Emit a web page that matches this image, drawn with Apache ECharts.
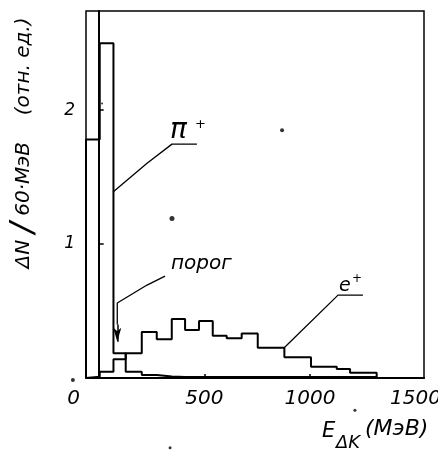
<!DOCTYPE html>
<html><head><meta charset="utf-8">
<script src="https://cdn.jsdelivr.net/npm/echarts@6/dist/echarts.min.js"></script>
<style>html,body{margin:0;padding:0;background:#fff}#c{width:438px;height:450px}</style>
</head><body><div id="c"></div>
<script>
// ---- data ----
// histogram bin edges (MeV)
const binEdges = [-60, 5, 70, 128, 204, 275, 346, 409, 475, 540, 606, 677, 753, 816, 879, 942, 1005, 1067, 1127, 1190, 1253, 1316];
// pi+ histogram, dN/60 MeV (rel. units)
const pionValues = [1.78, 2.50, 0.185, 0.047, 0.022, 0.012, 0.008, 0.008, 0.007, 0.007, 0.007, 0.007, 0.007, 0.007, 0.007, 0.007, 0.007, 0.007, 0.007, 0.007, 0.007];
// e+ histogram
const positronValues = [0.01, 0.047, 0.14, 0.185, 0.343, 0.289, 0.44, 0.358, 0.425, 0.316, 0.296, 0.333, 0.226, 0.226, 0.154, 0.154, 0.084, 0.084, 0.067, 0.04, 0.04];
// axis ticks
const xTickLabels = [0, 500, 1000, 1500];
const xTickMarks = [500, 1000];
const yTickLabels = [1, 2];
// annotation leader lines (data coordinates)
const pionLeader = [[465, 1.746], [347, 1.746], [229, 1.604], [68, 1.388]];
const thresholdLeader = [[314, 0.761], [229, 0.694], [88, 0.56], [88, 0.40]];
const thresholdArrow = [[88, 0.40], [88, 0.27]];
const positronLeader = [[1251, 0.619], [1133, 0.619], [877, 0.224]];
// stray specks in the scan
const specks = [[347, 1.19, 5], [868, 1.85, 4], [16, 2.05, 2], [-122, -0.015, 4], [1213, -0.24, 3], [338, -0.52, 3]];

const FONT = 'DejaVu Sans';
function stepPath(edges, vals) {
  const pts = [[edges[0], 0]];
  vals.forEach((v, i) => { pts.push([edges[i], v]); pts.push([edges[i + 1], v]); });
  pts.push([edges[edges.length - 1], 0]);
  return pts;
}
const lineBase = { type: 'line', symbol: 'none', silent: true, animation: false };

const chart = echarts.init(document.getElementById('c'), null, { renderer: 'canvas' });
chart.setOption({
  animation: false,
  backgroundColor: '#fff',
  grid: { left: 86, right: 14, top: 11, bottom: 72, show: true, borderColor: '#000', borderWidth: 1.5,
          outerBoundsMode: 'none', containLabel: false },
  xAxis: {
    type: 'value', min: -60, max: 1540,
    splitLine: { show: false },
    axisLine: { show: true, lineStyle: { color: '#000', width: 2 } },
    axisTick: { show: true, inside: true, length: 4, customValues: xTickMarks, lineStyle: { color: '#000', width: 1.5 } },
    axisLabel: {
      customValues: xTickLabels, margin: 11, color: '#000', fontSize: 20, fontStyle: 'italic', fontFamily: FONT,
      formatter: v => v === 0 ? '{z|0}' : String(v),
      rich: { z: { padding: [0, 50, 0, 0], fontSize: 20, fontStyle: 'italic', fontFamily: FONT, color: '#000' } }
    }
  },
  yAxis: {
    type: 'value', min: 0, max: 2.74,
    splitLine: { show: false },
    axisLine: { show: true, lineStyle: { color: '#000', width: 2 } },
    axisTick: { show: true, inside: true, length: 5, customValues: yTickLabels, lineStyle: { color: '#000', width: 1.5 } },
    axisLabel: { customValues: yTickLabels, margin: 11, color: '#000', fontSize: 17, fontStyle: 'italic', fontFamily: FONT }
  },
  series: [
    Object.assign({}, lineBase, { name: 'π+', data: stepPath(binEdges, pionValues), lineStyle: { color: '#000', width: 2 } }),
    Object.assign({}, lineBase, { name: 'e+', data: stepPath(binEdges, positronValues), lineStyle: { color: '#000', width: 2 } }),
    Object.assign({}, lineBase, { name: 'leader-pi', data: pionLeader, lineStyle: { color: '#000', width: 1.3 } }),
    Object.assign({}, lineBase, { name: 'leader-threshold', data: thresholdLeader, lineStyle: { color: '#000', width: 1.3 },
      markLine: { silent: true, symbol: ['none', 'arrow'], symbolSize: [6, 14], label: { show: false },
        lineStyle: { color: '#000', width: 1.5, type: 'solid' },
        data: [[{ coord: thresholdArrow[0] }, { coord: thresholdArrow[1] }]] } }),
    Object.assign({}, lineBase, { name: 'leader-e', data: positronLeader, lineStyle: { color: '#000', width: 1.3 } }),
    { type: 'scatter', silent: true, animation: false, clip: false, data: specks,
      symbolSize: d => d[2], itemStyle: { color: '#000' } }
  ],
  graphic: [
    { type: 'text', x: 24, y: 143, rotation: Math.PI / 2,
      style: { text: '{a|ΔN}  {s|/}  {b|60·МэВ}        {b|(отн. ед.)}', fill: '#000', align: 'center', verticalAlign: 'middle',
        rich: {
          a: { fontSize: 20, fontStyle: 'italic', fontFamily: FONT, fill: '#000' },
          s: { fontSize: 32, fontStyle: 'italic', fontFamily: FONT, fill: '#000' },
          b: { fontSize: 20, fontStyle: 'italic', fontFamily: FONT, fill: '#000' }
        } } },
    { type: 'text', x: 322, y: 432, style: { text: 'E', fill: '#000', fontSize: 21, fontStyle: 'italic', fontFamily: FONT, align: 'left', verticalAlign: 'middle' } },
    { type: 'text', x: 336, y: 443, style: { text: 'ΔK', fill: '#000', fontSize: 18, fontStyle: 'italic', fontFamily: FONT, align: 'left', verticalAlign: 'middle' } },
    { type: 'text', x: 365, y: 429, style: { text: '(МэВ)', fill: '#000', fontSize: 22, fontStyle: 'italic', fontFamily: FONT, align: 'left', verticalAlign: 'middle' } },
    { type: 'text', x: 170, y: 131, style: { text: 'π', fill: '#000', fontSize: 28, fontStyle: 'italic', fontFamily: FONT, align: 'left', verticalAlign: 'middle' } },
    { type: 'text', x: 195, y: 125, style: { text: '+', fill: '#000', fontSize: 13, fontFamily: FONT, align: 'left', verticalAlign: 'middle' } },
    { type: 'text', x: 171, y: 264, style: { text: 'порог', fill: '#000', fontSize: 20, fontStyle: 'italic', fontFamily: FONT, align: 'left', verticalAlign: 'middle' } },
    { type: 'text', x: 339, y: 286, style: { text: 'e', fill: '#000', fontSize: 19, fontStyle: 'italic', fontFamily: FONT, align: 'left', verticalAlign: 'middle' } },
    { type: 'text', x: 352, y: 279, style: { text: '+', fill: '#000', fontSize: 12, fontFamily: FONT, align: 'left', verticalAlign: 'middle' } }
  ]
});
</script></body></html>
